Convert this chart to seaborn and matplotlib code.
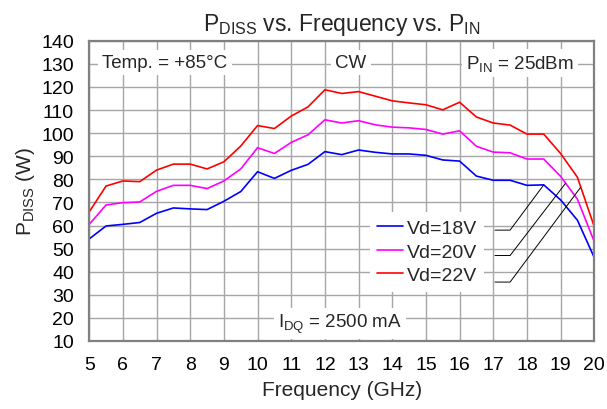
import numpy as np
import pandas as pd
import matplotlib
matplotlib.use("Agg")
import matplotlib.pyplot as plt
import seaborn as sns

freq = [5, 5.5, 6, 6.5, 7, 7.5, 8, 8.5, 9, 9.5, 10, 10.5, 11, 11.5, 12, 12.5,
        13, 13.5, 14, 14.5, 15, 15.5, 16, 16.5, 17, 17.5, 18, 18.5, 19, 19.5, 20]
vd18 = [54.2, 59.8, 60.5, 61.3, 65.3, 67.6, 67.2, 66.9, 70.5, 74.7, 83.3, 80.4, 83.9, 86.5, 92.0, 90.7,
        92.7, 91.7, 91.0, 91.0, 90.4, 88.4, 87.9, 81.4, 79.6, 79.6, 77.4, 77.6, 71.1, 62.3, 46.1]
vd20 = [60.5, 68.9, 69.9, 70.2, 74.8, 77.4, 77.4, 76.0, 79.3, 84.5, 93.7, 91.2, 96.0, 99.3, 105.8, 104.4,
        105.4, 103.6, 102.6, 102.3, 101.6, 99.6, 101.0, 94.3, 91.8, 91.5, 88.8, 88.8, 81.3, 71.4, 53.0]
vd22 = [65.9, 77.1, 79.3, 79.0, 84.0, 86.6, 86.6, 84.5, 87.6, 94.4, 103.3, 102.0, 107.4, 111.4, 118.8, 117.2,
        118.0, 116.0, 114.0, 113.1, 112.3, 110.1, 113.4, 107.0, 104.4, 103.5, 99.6, 99.6, 91.2, 80.9, 59.5]
labels = ["Vd=18V", "Vd=20V", "Vd=22V"]
colors = ["#0000ff", "#ff00ff", "#ff0000"]

df = pd.DataFrame({"freq": freq * 3,
                   "pdiss": vd18 + vd20 + vd22,
                   "bias": [labels[0]] * len(freq) + [labels[1]] * len(freq) + [labels[2]] * len(freq)})

sns.set_theme(style="whitegrid")
plt.rcParams["font.family"] = ["Liberation Sans", "DejaVu Sans"]
plt.rcParams["mathtext.default"] = "regular"

fig = plt.figure(figsize=(6.07, 4.10), dpi=100)
ax = fig.add_axes([0.147, 0.166, 0.832, 0.732])

sns.lineplot(data=df, x="freq", y="pdiss", hue="bias", palette=colors,
             linewidth=1.2, ax=ax, legend=False)

ax.set_xlim(5, 20)
ax.set_ylim(10, 140)
ax.set_xticks(range(5, 21))
ax.set_yticks(range(10, 141, 10))
ax.grid(True, color="#a6a6a6", linewidth=1.0)
for s in ax.spines.values():
    s.set_color("#808080")
    s.set_linewidth(1.6)
ax.tick_params(axis="both", length=0, labelsize=14, colors="black")
ax.tick_params(axis="y", pad=11)
ax.tick_params(axis="x", pad=11)

ax.set_xlabel("Frequency (GHz)", fontsize=15, labelpad=5)
ax.set_ylabel("P$_{DISS}$ (W)", fontsize=15, labelpad=3)
ax.set_title("P$_{DISS}$ vs. Frequency vs. P$_{IN}$", fontsize=16.5, pad=8)

box = dict(facecolor="white", edgecolor="none", pad=3)
ax.text(7.25, 130.5, "Temp. = +85°C", ha="center", va="center", fontsize=13.5, bbox=box)
ax.text(12.77, 130.5, "CW", ha="center", va="center", fontsize=13.5, bbox=box)
ax.text(17.8, 130.5, "P$_{IN}$ = 25dBm", ha="center", va="center", fontsize=13.5, bbox=box)
ax.text(12.45, 17.5, "I$_{DQ}$ = 2500 mA", ha="center", va="center", fontsize=13.5, bbox=box)

# legend with leader lines
handles = [plt.Line2D([], [], color=c, linewidth=1.2) for c in colors]
leg = ax.legend(handles, labels, loc="upper left", bbox_to_anchor=(0.555, 0.43),
                fontsize=14, frameon=True, fancybox=False, handlelength=1.3,
                handletextpad=0.2, labelspacing=0.3, borderpad=0.4, borderaxespad=0)
leg.get_frame().set_facecolor("white")
leg.get_frame().set_edgecolor("none")
leg.get_frame().set_alpha(1)

row_y = [58.0, 47.0, 35.5]
target_x = [18.5, 19.15, 19.6]
for ry, tx, series in zip(row_y, target_x, [vd18, vd20, vd22]):
    ty = np.interp(tx, freq, series)
    ax.plot([17.05, 17.5, tx], [ry, ry, ty], color="black", linewidth=0.7, zorder=5)

plt.savefig("out.png", dpi=100)
